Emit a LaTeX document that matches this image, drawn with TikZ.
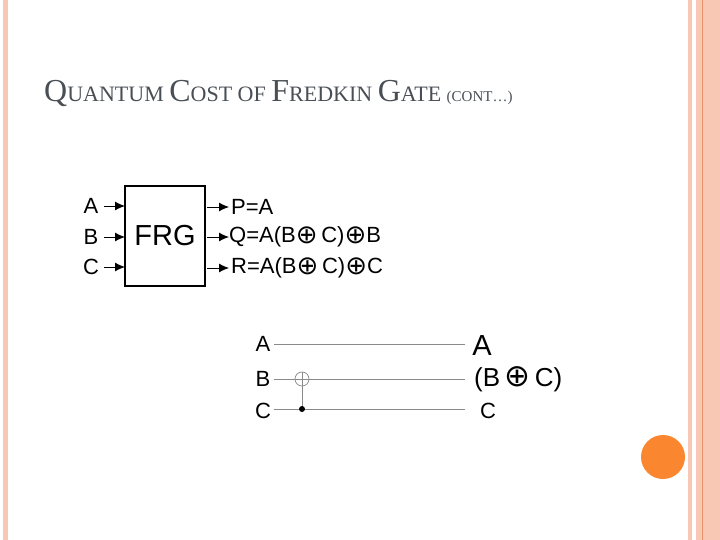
\documentclass[tikz,border=0pt]{standalone}
\usepackage{fontspec}
\setmainfont{Liberation Serif}
\newfontfamily\arial{Liberation Sans}
\newfontfamily\dvs{DejaVu Sans}
\usetikzlibrary{arrows.meta}
\definecolor{stripe}{HTML}{F9C8B5}
\definecolor{stripedark}{HTML}{E8956F}
\definecolor{dotor}{HTML}{FB8630}
\definecolor{titlegray}{HTML}{4A4F55}
\definecolor{wire}{HTML}{8A8A8A}
\newcommand{\ox}{{\dvs\fontsize{26}{26}\selectfont\raisebox{-0.5pt}{⊕}}}
\tikzset{lbl/.style={font=\arial\fontsize{22}{22}\selectfont,inner sep=0pt},
 inarr/.style={-{Latex[length=10pt,width=9pt]},line width=0.9pt},
 wireln/.style={wire,line width=1pt}}
\begin{document}
\begin{tikzpicture}[x=1pt,y=-1pt]
\useasboundingbox (0,0) rectangle (720,540);
\fill[stripe] (3,0) rectangle (8,540);
\fill[stripe] (688,0) rectangle (692,540);
\fill[stripe] (696,0) rectangle (720,540);
\draw[stripedark,line width=0.8pt] (702,0) -- (702,540);
\fill[dotor] (663,457) circle (22);
\node[anchor=base west,text=titlegray,inner sep=0pt] (title) at (44,102)
 {\fontsize{32}{32}\selectfont Q\fontsize{22}{22}\selectfont UANTUM \fontsize{32}{32}\selectfont C\fontsize{22}{22}\selectfont OST OF \fontsize{32}{32}\selectfont F\fontsize{22}{22}\selectfont REDKIN \fontsize{32}{32}\selectfont G\fontsize{22}{22}\selectfont ATE \fontsize{15}{15}\selectfont (CONT…)};
% FRG block
\node[draw,line width=1.2pt,minimum width=80pt,minimum height=100pt,inner sep=0pt,font=\arial\fontsize{29}{29}\selectfont] (frg) at (165,236) {FRG};
\foreach \n/\y in {A/206,B/237,C/267}{
 \node[lbl] (i\n) at (91,\y) {\n};
 \draw[inarr] (104,\y) -- (125,\y);
}
\node[lbl,anchor=west] (p) at (231,207) {P=A};
\node[lbl,anchor=west] (q) at (229,237) {Q=A(B\ox\,C)\ox B};
\node[lbl,anchor=west] (r) at (231,268) {R=A(B\ox\,C)\ox C};
\foreach \y in {207,237,268}{ \draw[inarr] (207,\y) -- (229,\y); }
% circuit
\node[lbl] (la) at (263,344) {A};
\node[lbl] (lb) at (263,379) {B};
\node[lbl] (lc) at (263,411) {C};
\node[lbl,font=\arial\fontsize{29}{29}\selectfont] (ra) at (482,346) {A};
\node[lbl,anchor=west,font=\arial\fontsize{26}{26}\selectfont] (rb) at (474,379) {(B\,{\dvs\fontsize{31}{31}\selectfont⊕}\,C)};
\node[lbl] (rc) at (488,411) {C};
\draw[wireln] (274,344) -- (465,344);
\draw[wireln] (274,379) -- (465,379);
\draw[wireln] (274,409) -- (465,409);
\draw[wireln] (302,372) -- (302,409);
\draw[wire,line width=0.7pt] (302,379) circle (7);
\fill[black] (302,409) circle (3);
\end{tikzpicture}
\end{document}
